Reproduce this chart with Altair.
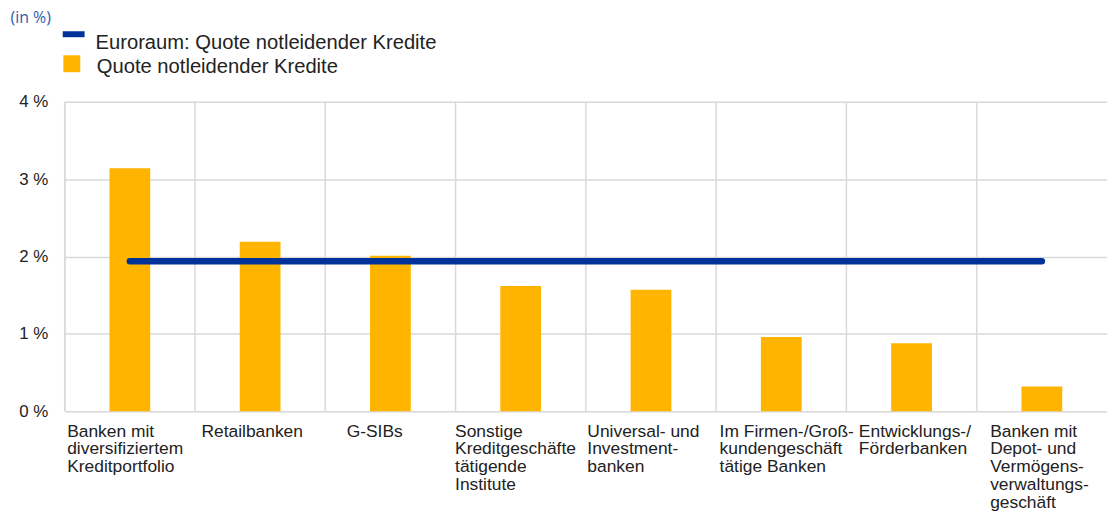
import json
import altair as alt
import pandas as pd

categories = [
    "Banken mit\ndiversifiziertem\nKreditportfolio",
    "Retailbanken",
    "G-SIBs",
    "Sonstige\nKreditgeschäfte\ntätigende\nInstitute",
    "Universal- und\nInvestment-\nbanken",
    "Im Firmen-/Groß-\nkundengeschäft\ntätige Banken",
    "Entwicklungs-/\nFörderbanken",
    "Banken mit\nDepot- und\nVermögens-\nverwaltungs-\ngeschäft",
]
npl_ratio = [3.14, 2.19, 2.01, 1.62, 1.57, 0.96, 0.88, 0.32]
euro_area = [1.94, 1.94, 1.94, 1.94, 1.94, 1.94, 1.94, 1.94]
y_ticks = [0, 1, 2, 3, 4]
unit_label = "(in %)"

series_line = "Euroraum: Quote notleidender Kredite"
series_bar = "Quote notleidender Kredite"

# label nudges (styling only): pixel offset of each label block from band centre
label_nudge = [-63, -59, -44, -66, -64, -62, -53, -52]

df = pd.DataFrame({"cat": categories, "npl": npl_ratio, "ea": euro_area})
df["s_line"] = series_line
df["s_bar"] = series_bar
grid_df = pd.DataFrame({"cat": categories})

FONT = "Liberation Sans"
BLUE = "#003299"
YELLOW = "#FFB400"
GRID = "#d9d9d9"
TEXT = "#222222"

x_scale = alt.Scale(domain=categories, paddingInner=0, paddingOuter=0)
y_scale = alt.Scale(domain=[0, 4], nice=False)

offset_cond = [
    {"test": "datum.value === " + json.dumps(c), "value": n}
    for c, n in zip(categories, label_nudge)
]

x_axis = alt.Axis(
    title=None,
    labelAngle=0,
    labelAlign="left",
    labelBaseline="top",
    labelFont=FONT,
    labelFontSize=17.5,
    labelLineHeight=18,
    labelColor=TEXT,
    labelPadding=11,
    labelLimit=0,
    labelOverlap=False,
    labelExpr="split(datum.label, '\\n')",
    labelOffset={"condition": offset_cond, "value": -60},
    ticks=False,
    tickSize=0,
    domain=False,
    grid=False,
)

y_axis = alt.Axis(
    title=unit_label,
    titleAngle=0,
    titleAlign="left",
    titleBaseline="top",
    titleX=-55,
    titleY=-93,
    titleFont="Open Sans",
    titleFontSize=16,
    titleFontWeight="normal",
    titleColor="#2e5ea8",
    values=y_ticks,
    labelExpr="datum.value + ' %'",
    labelFont=FONT,
    labelFontSize=17,
    labelColor=TEXT,
    labelPadding=17,
    ticks=False,
    tickSize=0,
    domain=False,
    grid=True,
    gridColor=GRID,
    gridWidth=1.5,
)

vgrid = alt.Chart(grid_df).mark_rule(color=GRID, strokeWidth=1.5).encode(
    x=alt.X("cat:N", bandPosition=0, scale=x_scale, axis=x_axis, sort=categories)
)

bars = alt.Chart(df).mark_bar(width=41).encode(
    x=alt.X("cat:N", scale=x_scale, axis=x_axis, sort=categories),
    y=alt.Y("npl:Q", scale=y_scale, axis=y_axis),
    fill=alt.Fill(
        "s_bar:N",
        scale=alt.Scale(domain=[series_bar], range=[YELLOW]),
        legend=alt.Legend(
            title=None,
            orient="none",
            legendX=-3,
            legendY=-45,
            symbolType="M-1,-1.41H1V0.59H-1Z",
            symbolSize=289,
            symbolStrokeWidth=0,
            labelFont=FONT,
            labelFontSize=20.3,
            labelColor=TEXT,
            labelOffset=15,
            labelLimit=0,
        ),
    ),
)

line = alt.Chart(df).mark_line(strokeWidth=6.5, strokeCap="round").encode(
    x=alt.X("cat:N", scale=x_scale, axis=x_axis, sort=categories),
    y=alt.Y("ea:Q", scale=y_scale, axis=y_axis),
    stroke=alt.Stroke(
        "s_line:N",
        scale=alt.Scale(domain=[series_line], range=[BLUE]),
        legend=alt.Legend(
            title=None,
            orient="none",
            legendX=-5,
            legendY=-83.5,
            symbolType="M-1,0.136L1,0.136",
            symbolSize=484,
            symbolStrokeWidth=6,
            labelFont=FONT,
            labelFontSize=20.3,
            labelColor=TEXT,
            labelOffset=8,
            labelBaseline="top",
            labelLimit=0,
        ),
    ),
)

chart = (
    alt.layer(vgrid, bars, line)
    .resolve_legend(fill="independent", stroke="independent")
    .properties(
        width=1048,
        height=311,
        autosize=alt.AutoSizeParams(type="none"),
        padding={"left": 57, "top": 93, "right": 0, "bottom": 100},
    )
    .configure_view(stroke=None)
    .configure(background="white")
)

chart.save("out.html", embed_options={"renderer": "svg", "actions": False})
